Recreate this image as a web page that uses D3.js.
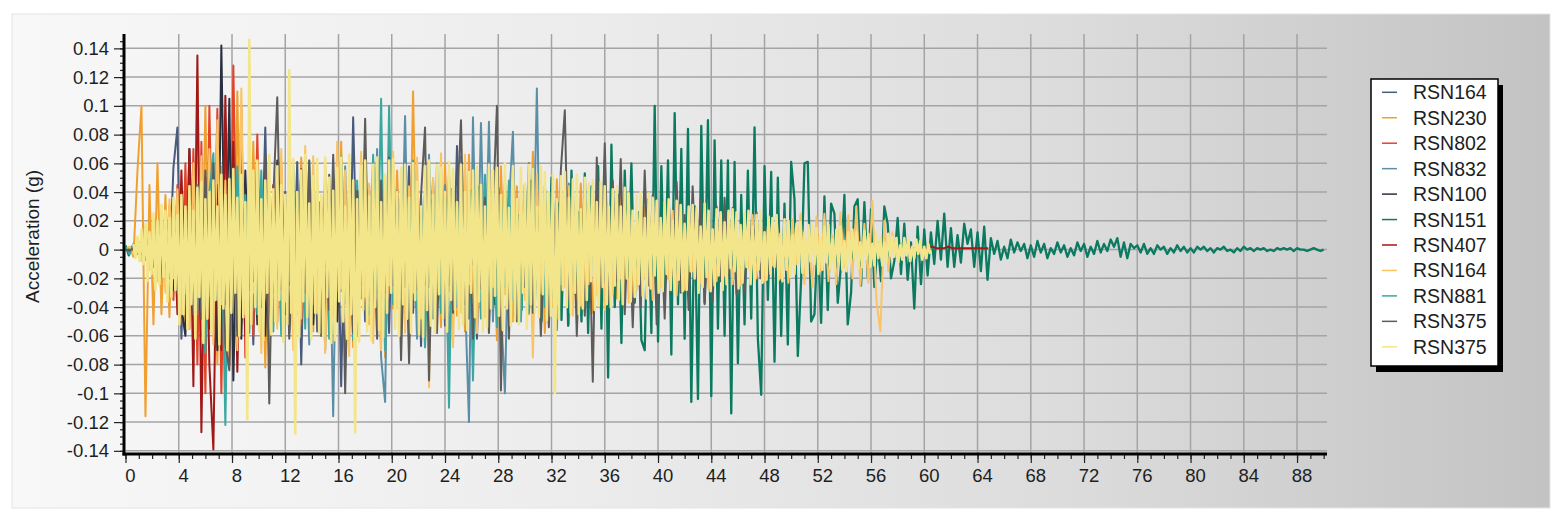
<!DOCTYPE html>
<html>
<head>
<meta charset="utf-8">
<script src="https://cdn.jsdelivr.net/npm/d3@7"></script>
<style>
  body { margin: 0; background: #fff; }
  svg { display: block; font-family: "Liberation Sans", Arial, sans-serif; }
</style>
</head>
<body>
<script>
// acceleration records, values in milli-g, sampled every seriesStep seconds from seriesStart
const rsn164a = [
  0,-1,2,-3,5,-7,10,-12,15,-20,
  25,-18,57,85,-62,34,-41,22,-38,48,
  -31,44,-55,27,-47,66,-29,38,-52,70,
  -24,41,-66,35,-19,85,-43,28,-37,51,
  -45,23,-33,61,-80,36,-28,47,-57,30,
  -39,52,-27,44,-95,33,-48,92,-21,37,
  -50,29,-42,63,-35,24,-58,46,-30,39,
  -26,58,-44,31,-67,40,-22,49,-36,27,
  -53,35,-29,72,-41,26,-48,33,-62,38,
  -24,45,-37,29,-50,41,-33,26,-45,34,
  -28,40,-36,22,-31,38,-25,30,-34,21,
  -24,19,-22,15,-12,9,-5
];
const rsn230 = [
  0,2,-5,55,100,-116,45,-52,60,-45,
  38,-47,30,-35,42,-55,48,-40,120,-60,
  100,-46,35,-80,58,-98,41,-66,110,-52,
  33,-48,75,-29,44,-82,37,-25,52,-40,
  29,-55,47,-36,64,-22,38,-57,31,-44,
  58,-33,26,-49,75,-38,21,-68,42,-30,
  35,-52,62,-27,46,-75,30,-41,55,-24,
  37,-48,110,-33,28,-67,45,-21,39,-54,
  60,-29,41,-46,25,-57,66,-35,30,-42,
  48,-26,33,-63,58,-31,22,-50,44,-37,
  29,-45,68,-24,36,-58,27,-40,49,-22,
  34,-52,25,-38,46,-27,31,-44,23,-36,
  40,-28,21,-34,45,-19,27,-31,24,-26,
  30,-22,25,-29,18,-24,28,-17,22,-20,
  19,-23,15,-18,21,-14,16,-12,10,-6
];
const rsn802 = [
  0,1,-2,4,-6,8,-10,12,-15,18,
  -25,30,-35,45,-50,60,-55,70,-80,75,
  -100,100,-45,98,-100,52,-80,128,-40,100,
  -75,42,-60,80,-35,55,-70,28,-50,58,
  -32,50,-48,25,-52,45,-20,48,-44,30,
  -46,22,-38,40,-18,45,-32,26,-40,20,
  -35,24,-18,30,-28,14,-30,26,-12,25,
  -16,22,-20,10,-18,15,-9,17,-12,8,
  -10,12,-6,9,-8,5,-7,6,-4,5,
  -3,4,-3,2,-2,3,-1,2,-1,0
];
const rsn832 = [
  0,1,-1,2,-2,3,-4,5,-6,8,
  -10,14,-18,22,-30,25,-40,18,-45,32,
  -28,55,-38,24,-66,42,-20,62,-35,30,
  -50,27,-42,55,-22,38,-57,33,-24,46,
  -35,22,-58,40,-27,51,-66,30,-45,26,
  -70,36,-116,48,-29,58,-42,25,-60,35,
  -28,45,-37,70,-75,-106,80,-33,41,-24,
  93,-45,30,-62,38,-25,66,-48,22,-36,
  45,-75,28,-40,65,-32,-120,92,-38,88,
  -27,89,-50,34,-41,-100,29,82,-47,36,
  -31,44,-25,112,-52,30,-40,24,-56,33,
  -22,46,-35,28,-45,19,-33,40,-26,31,
  -36,22,-30,35,-18,27,-28,15,-25,19,
  -20,12,-8,4
];
const rsn100 = [
  0,1,-1,2,-3,5,-6,8,-10,12,
  -15,22,-28,35,-40,-60,70,-25,45,-33,
  40,-55,27,-70,142,-38,105,-91,30,-62,
  55,-26,38,-52,24,-60,44,-30,62,-21,
  32,-58,20,-40,55,-26,35,-52,18,-44,
  48,-22,30,-50,26,-35,44,-18,40,-29,
  22,-40,35,-17,33,-26,19,-32,28,-14,
  27,-16,21,-27,12,-24,18,-10,19,-15,
  11,-17,9,-14,15,-8,13,-10,6,-11,
  8,-5,7,-6,4,-5,3,-3,2,-1
];
const rsn151 = [
  3,-4,2,-3, 5,-2,8,-7, 4,-9,12,-5, 14,-8,10,-15, 6,-13,18,-9,
  20,-7,15,-22, 12,-24,21,-10, 25,-14,8,-26, 19,-23,27,-11, 14,-28,20,-25,
  28,-12,26,-30, 13,-27,31,-18, 29,-25,17,-32, 30,-16,24,-29, 12,-31,33,-25,
  26,-14,28,-34, 32,-27,19,-31, 28,-33,14,-26, 34,-19,27,-32, 20,-35,31,-18,
  33,-30,16,-32, 35,-18,31,-34, 22,-33,40,-26, 34,-39,18,-41, 38,-25,42,-17,
  26,-40,39,-23, 41,-28,44,-20, 29,-45,22,-38, 43,-31,46,-24, 30,-47,24,-42,
  45,-23,48,-36, 27,-50,44,-28, 50,-36,32,-49, 38,-53,55,-31, 26,-50,53,-58,
  44,-30,58,-55, 62,-89,73,-40, 38,-65,55,-22, 60,-37,26,-63, -70,35,-58,100,
  -64,58,-30,62, -73,95,-38,70, -62,84,-106,30, -104,86,-37,90, -102,76,-55,62,
  -60,62,-114,61, -79,38,-52,55, -48,85,-62,-101, 58,-35,54,-78, 50,-60,32,-66,
  61,35,-74,-20, 60,61,-50,-45, 10,-51,37,-42, 32,25,-37,-10, 38,-52,-30,30,
  35,-25,33,-19, 28,-26,5,-22, 30,18,-20,-8, 22,-17,18,-21, 5,-41,16,-24,
  14,-18,12,-10, 20,-7,25,-12, 15,-12,10,-9, 18,4,14,-12, 12,-15,16,-21,
  8,-3,6,-7, 2,-6,7,-2, 5,-1,4,-6, 3,-5,6,-2, 4,-6,1,-3,
  5,-2,3,-5, 1,-4,5,-1, 4,-5,2,-3, 6,-2,4,-1, 7,2,8,-5,
  5,-6,4,1, 3,-2,4,-3, 1,-3,3,0, 2,-3,1,-2, 3,-1,2,-2,
  1,-2,2,0, 2,-1,1,-2, 1,0,2,-1, 0,-2,1,-1, 2,0,1,-1,
  1,0,1,-1, 0,-1,1,0, 1,0,1,-1, 1,0,0,-1, 0,1,0,-1,
  0
];
const rsn407 = [
  0,-1,1,-2,3,-3,5,-6,8,-10,
  15,-20,30,-45,55,-35,70,-95,135,-127,
  50,-80,-139,45,-70,107,-40,75,-85,30,
  -60,35,-25,50,-48,22,-52,45,-20,42,
  -34,18,-42,28,-16,40,-24,15,-32,30,
  -12,28,-26,10,-25,24,-8,25,-20,12,
  -18,9,-19,17,-6,15,-13,8,-13,12,
  -12,11,-10,12,-9,10,-8,9,-8,7,
  -7,6,-7,5,-6,6,-5,5,-4,5,
  -5,4,-5,4,-4,3,-4,4,-3,3,
  -3,4,-3,3,-3,2,-3,3,-2,3,
  -2,2,-3,2,-2,2,-2,1,-2,2,
  -2,1,-1,2,-1,1,-2,1,-1,1,
  -1,1,-1,1,0,1,-1,1,0,1,
  0,1,0,1,0,1,0,1,0,1,
  1,0,1,1,0,1,1,0,1,1,
  1,1,0,1,1,1,0,1,1,1,
  1,1,1,0,1,1,1,1,0,1,
  1,1,1,2,1,0,1,2,1,1,
  1,2,1,1,0,1,2,1,1,1,
  1,1,2,1,1,1,2,1,1,1,
  1,1,1,1,1,1,1
];
const rsn164b = [
  0,2,-3,5,-8,10,-14,18,-22,25,
  -30,35,-20,42,-45,28,-55,60,-33,65,
  -40,70,-66,90,-38,48,-75,35,-70,112,
  -45,75,-30,58,-72,40,-80,29,-55,70,
  -36,52,-70,25,-48,72,-31,65,-44,38,
  -72,30,-46,75,-27,55,-74,36,-50,68,
  -33,46,-65,28,-70,52,-25,68,-41,35,
  -58,44,-30,64,-48,26,-96,50,-35,67,
  -28,55,-68,32,-44,66,-24,40,-58,30,
  -47,58,-26,38,-56,31,-42,55,-22,44,
  -35,28,-75,52,-30,41,-52,23,-38,48,
  -26,44,-46,20,-39,35,-24,46,-32,27,
  -42,24,-31,38,-20,33,-37,22,-28,35,
  -19,32,-35,18,-26,30,-21,27,-32,17,
  -28,24,-15,27,-23,19,-27,14,-22,24,
  -18,26,-24,12,-25,22,-13,24,-20,15,
  -22,23,-11,24,-20,14,-23,21,-10,25,
  -24,12,-26,23,-15,25,-22,10,-24,26,
  -12,24,-20,30,-25,18,-23,34,-35,-57,
  20,-15,12,-4
];
const rsn881 = [
  2,-3,4,-2,3,-4,6,-5,8,-10,
  12,-15,18,-22,25,-30,20,-40,45,-28,
  -72,40,67,-35,25,-122,50,-32,58,-25,
  38,-58,22,-45,55,-30,42,-57,28,-60,
  35,-22,58,-40,24,-55,62,-30,45,-26,
  30,-62,41,-28,65,-37,22,-63,48,-34,
  26,-45,66,-30,105,-70,100,-38,27,-62,
  45,-26,62,-40,30,-68,35,-22,60,-44,
  28,-110,45,-35,58,-27,40,-91,26,-48,
  52,-30,24,-54,38,-26,48,-35,22,-50,
  30,-44,42,-25,36,-40,20,-33,35,-24,
  28,-18,22,-15,12,-8,4
];
const rsn375a = [
  0,-1,1,-2,3,-4,6,-8,10,-12,
  15,-20,25,-30,35,-22,42,-45,28,-48,
  55,-32,60,-25,40,-65,-84,30,-60,45,
  -38,60,-22,56,-40,65,-107,35,106,-28,
  40,-62,25,-45,56,-30,62,-38,24,-60,
  35,-42,66,-28,44,-100,30,-58,41,-24,
  91,-35,26,-62,48,-30,64,-25,37,-77,
  32,-79,45,-28,38,85,-91,25,-58,40,
  -30,52,-44,26,90,-38,22,-62,45,-27,
  36,-58,28,100,-98,40,-62,24,-50,38,
  -26,60,-44,30,-60,22,-54,38,-25,55,
  97,-34,45,-60,24,-46,32,-92,64,-28,
  74,-36,48,-22,63,-45,30,-54,26,-40,
  55,-25,38,-52,20,-48,36,-18,47,-30,
  24,-42,44,-20,35,-38,18,-36,30,-22,
  36,-18,29,-31,15,-30,24,-12,26,-20,
  14,-18,10,-12,8,-6,2
];
const rsn375b = [
  4,-6,9,-8,14,-10,18,-22,12,-17,25,-28,20,-24,31,-19,27,-36,22,-33,
  36,-28,24,-52,38,-45,30,-55,44,-38,27,-62,43,-33,47,-65,35,-48,40,-58,
  48,-35,30,-66,52,-41,38,-70,49,-44,56,-30,36,-60,52,-47,33,-118,146,-52,
  55,-40,62,-57,35,-63,48,-30,66,-59,42,-50,58,-35,45,-64,38,-52,125,-44,
  63,-128,40,-61,55,-36,66,-47,32,-62,51,-44,63,-58,38,-60,64,-33,50,-65,
  41,-63,57,-36,64,-50,30,-62,66,-45,48,-127,35,-64,58,-42,62,-57,37,-63,
  59,-40,64,-56,33,-61,52,-44,62,-30,63,-55,40,-60,57,-38,59,-48,36,-58,
  60,-35,47,-59,30,-61,58,-42,62,-53,38,-58,59,-31,57,-48,40,-57,61,-35,
  56,-42,33,-55,59,-52,40,-56,54,-30,55,-47,58,-36,45,-57,30,-54,59,-41,
  55,-32,57,-46,38,-56,60,-41,29,-53,58,-49,35,-52,57,-30,46,-55,59,-38,
  56,-44,30,-47,58,-31,54,-49,40,-46,52,-100,35,-48,51,-28,54,-40,36,-44,
  49,-30,52,-45,28,-41,50,-35,46,-22,48,-42,33,-39,47,-26,44,-38,30,-40,
  42,-25,44,-35,30,-38,43,-20,39,-36,27,-33,38,-24,40,-32,22,-34,39,-27,
  36,-18,34,-30,22,-29,33,-17,35,-28,20,-30,34,-21,31,-29,18,-28,30,-15,
  31,-20,29,-30,16,-26,32,-19,27,-29,14,-25,28,-18,26,-28,19,-24,27,-13,
  28,-15,26,-27,17,-23,25,-12,27,-24,16,-22,24,-14,27,-23,12,-21,23,-17,
  22,-12,24,-21,11,-22,21,-14,20,-19,10,-17,18,-9,19,-16,12,-18,17,-8,
  18,-10,15,-17,8,-14,16,-9,17,-13,7,-16,14,-8,16,-14,6,-15,12,-9,
  14,-6,12,-13,5,-12,13,-7,11,-12,4,-11,12,-6,8,-11,5,-9,11,-4,
  9,-5,8,-9,3,-7,8,-4,7,-8,2,-6,7,-3,6,-7,2,-6,4,-3
];

const seriesNames = ['RSN164', 'RSN230', 'RSN802', 'RSN832', 'RSN100', 'RSN151',
  'RSN407', 'RSN164', 'RSN881', 'RSN375', 'RSN375'];
const seriesValues = [rsn164a, rsn230, rsn802, rsn832, rsn100, rsn151,
  rsn407, rsn164b, rsn881, rsn375a, rsn375b];
const seriesColors = ['#4a5a7c', '#f0a030', '#e2442a', '#5b8fa8', '#2a3040', '#0b7a60',
  '#a01818', '#f8c466', '#3aa8a0', '#5e5c5a', '#f3e58a'];
const seriesStart = [0, 0, 0, 0, 0, 0, 0, 0, 0, 0, 0.6];
const seriesStep = [0.3, 0.3, 0.3, 0.3, 0.3, 0.25, 0.3, 0.3, 0.3, 0.3, 0.15];
const seriesWidth = [2, 2, 2, 2, 2, 2.3, 2, 2, 2, 2, 2.6];

const xTickValues = [0, 4, 8, 12, 16, 20, 24, 28, 32, 36, 40, 44, 48, 52, 56, 60, 64, 68, 72, 76, 80, 84, 88];
const yTickValues = [0.14, 0.12, 0.1, 0.08, 0.06, 0.04, 0.02, 0, -0.02, -0.04, -0.06, -0.08, -0.1, -0.12, -0.14];

const width = 1562;
const height = 530;
const plot = { left: 125.5, right: 1327, top: 34, bottom: 453 };

const x = d3.scaleLinear().domain([0, 90.25]).range([plot.left, plot.right]);
const y = d3.scaleLinear().domain([-0.1415, 0.15]).range([plot.bottom, plot.top]);

const svg = d3.select('body').append('svg')
  .attr('width', width)
  .attr('height', height);

const defs = svg.append('defs');
const grad = defs.append('linearGradient')
  .attr('id', 'panelFill')
  .attr('x1', 0).attr('x2', 1).attr('y1', 0).attr('y2', 0);
[[0, '#f8f8f8'], [0.35, '#ededed'], [0.7, '#dbdbdb'], [1, '#c3c3c3']].forEach(s => {
  grad.append('stop').attr('offset', s[0]).attr('stop-color', s[1]);
});
defs.append('clipPath').attr('id', 'plotClip')
  .append('rect')
  .attr('x', plot.left)
  .attr('y', plot.top)
  .attr('width', plot.right - plot.left)
  .attr('height', plot.bottom - plot.top);

// panel background
svg.append('rect')
  .attr('x', 12).attr('y', 14)
  .attr('width', 1538).attr('height', 494)
  .attr('fill', 'url(#panelFill)')
  .attr('stroke', '#e4e4e4');

// grid
const grid = svg.append('g').attr('stroke', '#a4a4a4').attr('stroke-width', 1.5);
grid.selectAll('line.vgrid')
  .data(xTickValues.slice(1))
  .join('line')
  .attr('class', 'vgrid')
  .attr('x1', d => x(d)).attr('x2', d => x(d))
  .attr('y1', plot.top).attr('y2', plot.bottom);
grid.selectAll('line.hgrid')
  .data(yTickValues)
  .join('line')
  .attr('class', 'hgrid')
  .attr('x1', plot.left).attr('x2', plot.right)
  .attr('y1', d => y(d)).attr('y2', d => y(d));

// curves
const valueline = d3.line()
  .x(d => x(d[0]))
  .y(d => y(d[1] / 1000));

const curves = svg.append('g').attr('clip-path', 'url(#plotClip)');
seriesValues.forEach((vals, i) => {
  const pts = vals.map((v, k) => [seriesStart[i] + k * seriesStep[i], v]);
  curves.append('path')
    .attr('d', valueline(pts))
    .style('fill', 'none')
    .style('stroke', seriesColors[i])
    .style('stroke-width', seriesWidth[i])
    .style('stroke-linejoin', 'round');
});

// axes
const tickFont = '18.5px';
const yAxis = d3.axisLeft(y)
  .tickValues(yTickValues)
  .tickSize(10)
  .tickPadding(5)
  .tickFormat(d => String(+d.toFixed(2)));
const yMinor = d3.axisLeft(y)
  .tickValues(d3.range(-0.14, 0.1451, 0.005))
  .tickSize(4)
  .tickFormat('');
const xAxis = d3.axisBottom(x)
  .tickValues(xTickValues)
  .tickSize(9)
  .tickPadding(6);
const xMinor = d3.axisBottom(x)
  .tickValues(d3.range(0, 91, 1))
  .tickSize(5)
  .tickFormat('');

const gy = svg.append('g').attr('transform', `translate(${plot.left - 1.5},0)`);
gy.append('g').call(yMinor).call(g => g.select('.domain').remove());
gy.append('g').call(yAxis).call(g => g.select('.domain').remove());
gy.selectAll('.tick line').attr('stroke', '#222').attr('stroke-width', 1.2);
gy.selectAll('.tick text')
  .attr('fill', '#1e1e1e')
  .style('font-size', tickFont)
  .style('font-family', '"Liberation Sans", Arial, sans-serif');

const gx = svg.append('g').attr('transform', `translate(0,${plot.bottom + 1})`);
gx.append('g').call(xMinor).call(g => g.select('.domain').remove());
gx.append('g').call(xAxis).call(g => g.select('.domain').remove());
gx.selectAll('.tick line').attr('stroke', '#222').attr('stroke-width', 1.2);
gx.selectAll('.tick text')
  .attr('fill', '#1e1e1e')
  .attr('dx', 4.5)
  .style('font-size', tickFont)
  .style('font-family', '"Liberation Sans", Arial, sans-serif');

// thick axis lines
svg.append('line')
  .attr('x1', plot.left - 1.5).attr('x2', plot.left - 1.5)
  .attr('y1', plot.top).attr('y2', plot.bottom + 2.5)
  .attr('stroke', '#000').attr('stroke-width', 3);
svg.append('line')
  .attr('x1', plot.left - 3).attr('x2', plot.right)
  .attr('y1', plot.bottom + 1).attr('y2', plot.bottom + 1)
  .attr('stroke', '#000').attr('stroke-width', 3);

// axis title
svg.append('text')
  .attr('transform', 'translate(39,236.5) rotate(-90)')
  .attr('text-anchor', 'middle')
  .attr('fill', '#1e1e1e')
  .style('font-size', '19px')
  .text('Acceleration (g)');

// legend
const legend = svg.append('g');
legend.append('rect')
  .attr('x', 1376).attr('y', 85)
  .attr('width', 127).attr('height', 287)
  .attr('fill', '#000');
legend.append('rect')
  .attr('x', 1371).attr('y', 79)
  .attr('width', 127).attr('height', 287)
  .attr('fill', '#fff')
  .attr('stroke', '#000')
  .attr('stroke-width', 1.5);
const items = legend.selectAll('g.item')
  .data(seriesNames)
  .join('g')
  .attr('class', 'item')
  .attr('transform', (d, i) => `translate(0,${92.3 + i * 25.45})`);
items.append('line')
  .attr('x1', 1382).attr('x2', 1397)
  .attr('stroke', (d, i) => seriesColors[i])
  .attr('stroke-width', 1.5);
items.append('text')
  .attr('x', 1413)
  .attr('y', 7)
  .attr('fill', '#1e1e1e')
  .style('font-size', '19.5px')
  .text(d => d);
</script>
</body>
</html>
